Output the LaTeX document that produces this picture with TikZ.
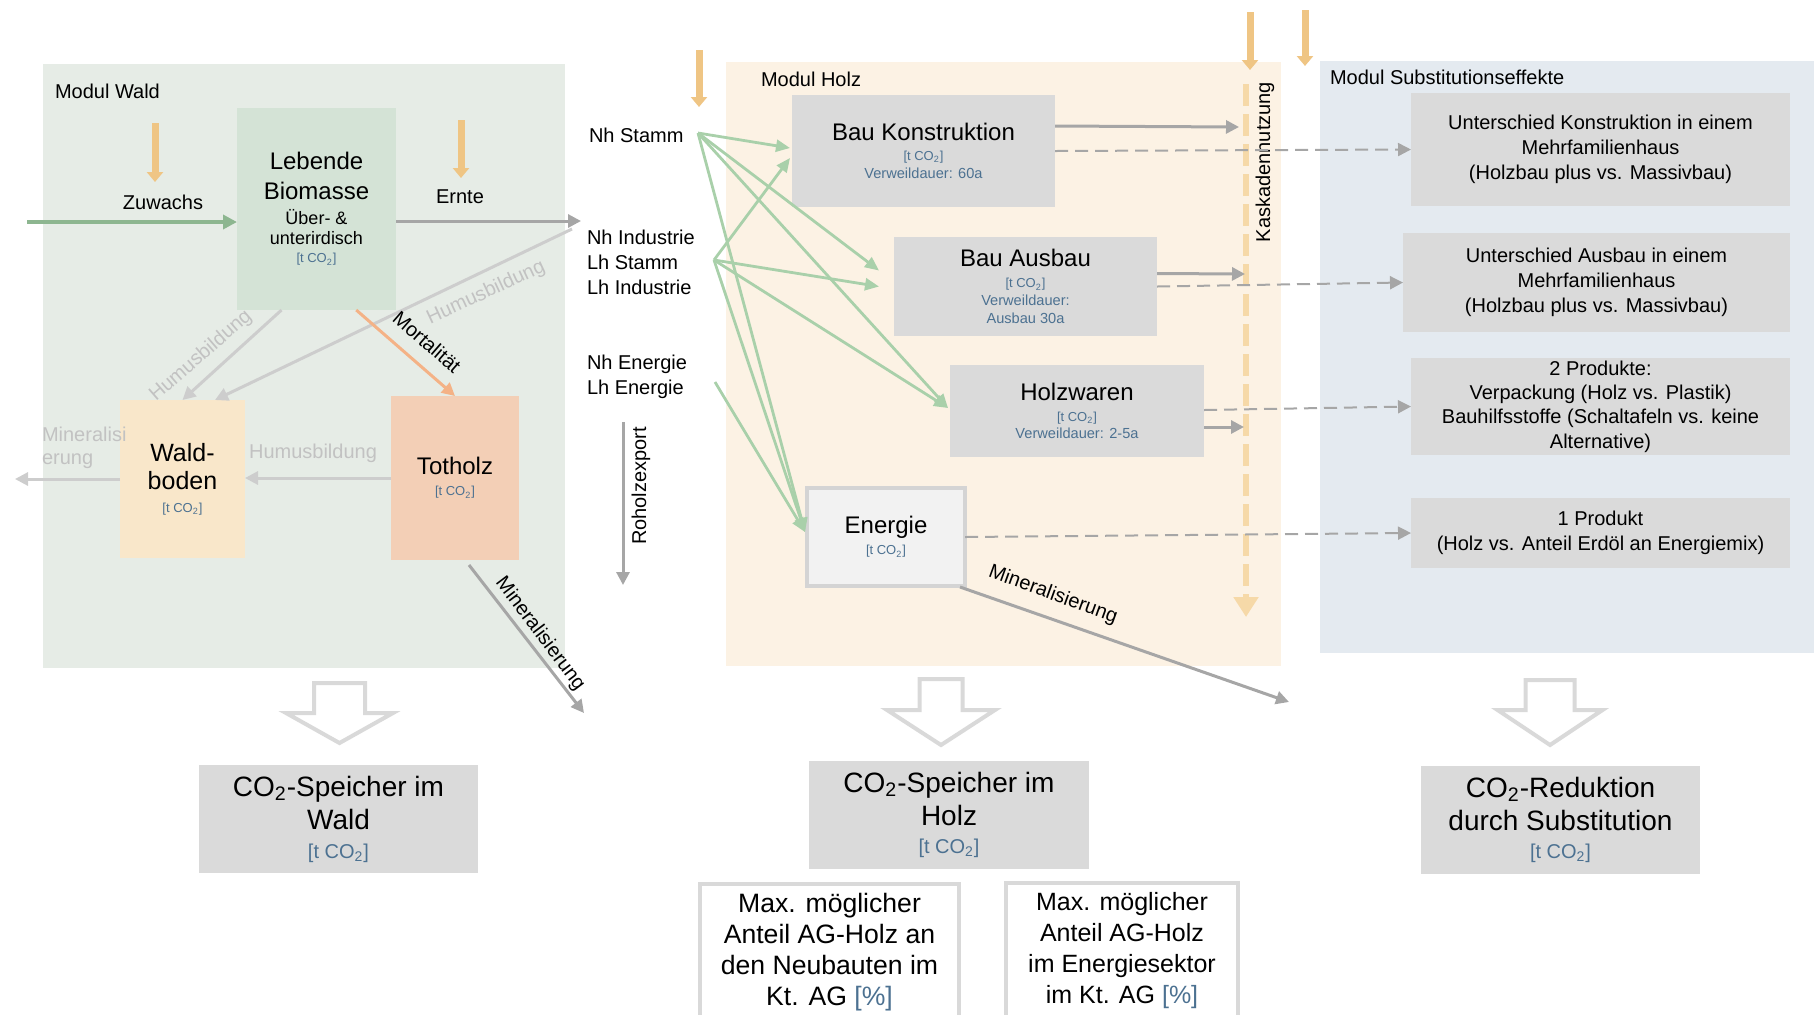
\documentclass[tikz,border=0pt]{standalone}
\usepackage{fontspec}
\setmainfont{Liberation Sans}
\usetikzlibrary{arrows.meta,calc}
\definecolor{waldbg}{HTML}{E6ECE6}
\definecolor{holzbg}{HTML}{FCF2E4}
\definecolor{subbg}{HTML}{E4EAF0}
\definecolor{lebfill}{HTML}{D4E3D6}
\definecolor{wbfill}{HTML}{F9E7CA}
\definecolor{thfill}{HTML}{F3CFB6}
\definecolor{boxgray}{HTML}{DADADA}
\definecolor{tblue}{HTML}{4C7191}
\definecolor{arrgray}{HTML}{A6A6A6}
\definecolor{lgline}{HTML}{CDCDCD}
\definecolor{humc}{HTML}{C2C2C2}
\definecolor{greenarr}{HTML}{A9D0AA}
\definecolor{greendark}{HTML}{8DB690}
\definecolor{goldc}{HTML}{EFC584}
\definecolor{kasc}{HTML}{F6D9A8}
\definecolor{orangearr}{HTML}{F4B286}
\definecolor{hollowc}{HTML}{D9D9D9}
\definecolor{enfill}{HTML}{F2F2F2}
\definecolor{enborder}{HTML}{D4D4D4}
\newcommand\fsz[1]{\fontsize{#1}{0pt}\selectfont}
\newcommand\tcoz{{\color{tblue}[t CO\textsubscript{2}]}}
\begin{document}
\lineskiplimit=-100pt
\begin{tikzpicture}[x=0.5pt,y=-0.5pt,
  panel/.style={rectangle, draw=none, inner sep=0pt, outer sep=0pt},
  box/.style={rectangle, inner sep=0pt, outer sep=0pt, align=center, text=black, font=\fsz{10}},
  lab/.style={inner sep=0pt, outer sep=0pt, text=black, font=\fsz{10}},
  goldarr/.style={draw=goldc, line width=3.5pt, -{Triangle[length=5pt,width=8pt]}},
  grayarr/.style={draw=arrgray, line width=1.5pt, -{Triangle[length=6.5pt,width=6.5pt]}},
  lgarr/.style={draw=lgline, line width=1.5pt, -{Triangle[length=6.5pt,width=6.5pt]}},
  orarr/.style={draw=orangearr, line width=1.5pt, -{Triangle[length=6.5pt,width=6.5pt]}},
  zwarr/.style={draw=greendark, line width=1.8pt, -{Triangle[length=7pt,width=7pt]}},
  grarr/.style={draw=greenarr, line width=1.4pt, -{Triangle[length=7pt,width=6pt]}},
  dasharr/.style={draw=arrgray, line width=1pt, dash pattern=on 6.5pt off 3.5pt, -{Triangle[length=6.5pt,width=6.5pt]}},
  kasarr/.style={draw=kasc, line width=3pt, dash pattern=on 11pt off 4pt, -{Triangle[length=10pt,width=12pt]}},
  hollowarr/.style={draw=hollowc, line width=2pt, fill=white, line join=miter},
  ]
\useasboundingbox (0,0) rectangle (1814,1014);
\clip (0,0) rectangle (1814,1014);

% ---------- panels
\node[panel, fill=waldbg, minimum width=261pt, minimum height=302pt] (pwald) at (304,366) {};
\node[panel, fill=holzbg, minimum width=277.5pt, minimum height=302pt] (pholz) at (1003.5,364) {};
\node[panel, fill=subbg, minimum width=247pt, minimum height=296pt] (psub) at (1567,357) {};

\node[lab, anchor=west] (twald) at (55,91) {Modul Wald};
\node[lab, anchor=west] (tholz) at (761,79) {Modul Holz};
\node[lab, anchor=west] (tsub) at (1330,77) {Modul Substitutionseffekte};

% ---------- Modul Wald
\node[box, fill=lebfill, minimum width=79.5pt, minimum height=101pt] (leb) at (316.5,209)
  {\fsz{12}Lebende\\[15pt]\fsz{12}Biomasse\\[12.4pt]\fsz{9}Über- \&\\[10pt]\fsz{9}unterirdisch\\[9.2pt]\fsz{6.5}\tcoz};
\node[box, fill=wbfill, minimum width=62.5pt, minimum height=79pt] (wb) at (182.5,479)
  {\fsz{12.5}Wald-\\[14pt]\fsz{12.5}boden\\[11.3pt]\fsz{6.5}\tcoz};
\node[box, fill=thfill, minimum width=64pt, minimum height=82pt] (th) at (455,478)
  {\fsz{12}Totholz\\[10.5pt]\fsz{6.5}\tcoz};

\coordinate (y1a) at (155,123); \coordinate (y1b) at (155,182);
\coordinate (y2a) at (461,120); \coordinate (y2b) at (461,178);
\draw[goldarr] (y1a) -- (y1b);
\draw[goldarr] (y2a) -- (y2b);

\coordinate (zw) at (27,222);
\draw[zwarr] (zw) -- (zw -| leb.west);
\coordinate (ern) at (581,221);
\draw[grayarr] (leb.east |- ern) -- (ern);
\node[lab] (zwt) at (163,202) {Zuwachs};
\node[lab] (ert) at (460,197) {Ernte};

\draw[lgarr] ($(leb.south west)!0.28!(leb.south east)$) -- (wb.north);
\coordinate (hl) at (572,229);
\draw[lgarr] (hl) -- ($(wb.north east)!0.24!(wb.north west)$);
\draw[orarr] ($(leb.south west)!0.75!(leb.south east)$) -- (th.north);
\draw[lgarr] (th.west) -- (th.west -| wb.east);
\coordinate (mleft) at (15,479);
\draw[lgarr] (wb.west) -- (mleft);
\coordinate (mtot) at (584,713);
\draw[grayarr] ($(th.south)+(14,5)$) -- (mtot);

\node[lab, text=humc, rotate=41] (h1) at (201,356) {Humusbildung};
\node[lab, text=humc, rotate=25] (h2) at (486,293) {Humusbildung};
\node[lab, text=humc] (h3) at (313,453) {Humusbildung};
\node[lab, rotate=-41] (mort) at (427,342) {Mortalität};
\node[lab, rotate=-53] (min1) at (540,634) {Mineralisierung};
\node[lab, text=humc, anchor=west, align=left] (min0) at (42,448) {Mineralisi\\[11.5pt]erung};

% ---------- Modul Holz
\coordinate (k0) at (1246,84); \coordinate (k1) at (1246,617);
\draw[kasarr] (k0) -- (k1);
\node[lab, rotate=90] (kask) at (1265,162) {Kaskadennutzung};

\coordinate (y3a) at (699,50); \coordinate (y3b) at (699,107);
\coordinate (y4a) at (1250,12); \coordinate (y4b) at (1250,70);
\coordinate (y5a) at (1305,10); \coordinate (y5b) at (1305,66);
\draw[goldarr] (y3a) -- (y3b);
\draw[goldarr] (y4a) -- (y4b);
\draw[goldarr] (y5a) -- (y5b);

\node[box, fill=boxgray, minimum width=131.5pt, minimum height=56pt] (bk) at (923.5,151)
  {\fsz{12}Bau Konstruktion\\[10pt]\fsz{6.5}\tcoz\\[9.2pt]\fsz{7.3}\color{tblue}Verweildauer: 60a};
\node[box, fill=boxgray, minimum width=131.5pt, minimum height=49.5pt] (ba) at (1025.5,286.5)
  {\fsz{12}Bau Ausbau\\[10.5pt]\fsz{6.5}\tcoz\\[8.75pt]\fsz{7.3}\color{tblue}Verweildauer:\\[9pt]\fsz{7.3}\color{tblue}Ausbau 30a};
\node[box, fill=boxgray, minimum width=127pt, minimum height=46pt] (hw) at (1077,411)
  {\fsz{12}Holzwaren\\[10.5pt]\fsz{6.5}\tcoz\\[8.75pt]\fsz{7.3}\color{tblue}Verweildauer: 2-5a};
\node[box, fill=enfill, draw=enborder, line width=2pt, minimum width=79pt, minimum height=49pt] (en) at (886,537)
  {\fsz{12}Energie\\[10.5pt]\fsz{6.5}\tcoz};

\node[lab, anchor=west] (nhs) at (589,135) {Nh Stamm};
\node[lab, anchor=west, align=left] (lhg) at (587,262) {Nh Industrie\\[12.5pt]Lh Stamm\\[12.5pt]Lh Industrie};
\node[lab, anchor=west, align=left] (neg) at (587,377) {Nh Energie\\[12.5pt]Lh Energie};

\coordinate (gs) at (698,133);
\coordinate (gl) at (714,260);
\coordinate (ge) at (715,382);
\draw[grarr] (gs) -- ($(bk.west)+(-2,-3)$);
\draw[grarr] (gs) -- ($(ba.west)+(-15,-16)$);
\draw[grarr] (gs) -- ($(hw.west)+(-2,-3)$);
\draw[grarr] (gs) -- ($(en.west)+(-2,-5)$);
\draw[grarr] (gl) -- ($(bk.west)+(-2,7)$);
\draw[grarr] (gl) -- ($(ba.west)+(-15,0)$);
\draw[grarr] (gl) -- ($(hw.west)+(-2,-3)$);
\draw[grarr] (gl) -- ($(en.west)+(-2,-5)$);
\draw[grarr] (ge) -- ($(en.west)+(-2,-5)$);

\coordinate (rx0) at (623,422); \coordinate (rx1) at (623,585);
\draw[grayarr] (rx0) -- (rx1);
\node[lab, rotate=90] (rxt) at (641,486) {Roholzexport};

% ---------- Modul Substitutionseffekte
\node[box, fill=boxgray, minimum width=189.5pt, minimum height=56.5pt] (s1) at (1600.5,149.5)
  {Unterschied Konstruktion in einem\\[12.5pt]Mehrfamilienhaus\\[12.5pt](Holzbau plus vs. Massivbau)};
\node[box, fill=boxgray, minimum width=193.5pt, minimum height=49.5pt] (s2) at (1596.5,282.5)
  {Unterschied Ausbau in einem\\[12.5pt]Mehrfamilienhaus\\[12.5pt](Holzbau plus vs. Massivbau)};
\node[box, fill=boxgray, minimum width=189.5pt, minimum height=48.5pt] (s3) at (1600.5,406.5)
  {2 Produkte:\\[12.2pt]Verpackung (Holz vs. Plastik)\\[12.2pt]Bauhilfsstoffe (Schaltafeln vs. keine\\[12.2pt]Alternative)};
\node[box, fill=boxgray, minimum width=189.5pt, minimum height=35pt] (s4) at (1600.5,533)
  {1 Produkt\\[12.5pt](Holz vs. Anteil Erdöl an Energiemix)};

\coordinate (ks1) at (1239,127);
\coordinate (ks2) at (1245,274);
\coordinate (ks3) at (1244,427);
\draw[grayarr] ($(bk.east)+(0,-25)$) -- (ks1);
\draw[dasharr] (bk.east) -- (s1.west);
\draw[grayarr] ($(ba.east)+(0,-13)$) -- (ks2);
\draw[dasharr] (ba.east) -- (s2.west);
\draw[dasharr] ($(hw.east)+(0,-1)$) -- (s3.west);
\draw[grayarr] ($(hw.east)+(0,16)$) -- (ks3);
\draw[dasharr] (en.east) -- (s4.west);
\coordinate (me) at (1289,702);
\draw[grayarr] ($(en.south east)+(-5,1)$) -- (me);
\node[lab, rotate=-20] (min2) at (1053,595) {Mineralisierung};

% ---------- bottom
\draw[hollowarr] (314,683) -- (365,683) -- (365,713) -- (393,713) -- (339.5,743) -- (286,713) -- (314,713) -- cycle;
\draw[hollowarr] (919.5,679) -- (962.5,679) -- (962.5,710) -- (995,710) -- (941,745) -- (887,710) -- (919.5,710) -- cycle;
\draw[hollowarr] (1525.5,680) -- (1574.5,680) -- (1574.5,710) -- (1602.5,710) -- (1550,745) -- (1497.5,710) -- (1525.5,710) -- cycle;

\node[box, fill=boxgray, minimum width=139.5pt, minimum height=54pt] (cw) at (338.5,819)
  {\fsz{14}CO\textsubscript{2}-Speicher im\\[16.5pt]\fsz{14}Wald\\[14.5pt]\fsz{10}\tcoz};
\node[box, fill=boxgray, minimum width=140pt, minimum height=54pt] (ch) at (949,815)
  {\fsz{14}CO\textsubscript{2}-Speicher im\\[16.75pt]\fsz{14}Holz\\[14pt]\fsz{10}\tcoz};
\node[box, fill=boxgray, minimum width=139.5pt, minimum height=54pt] (cr) at (1560.5,820)
  {\fsz{14}CO\textsubscript{2}-Reduktion\\[16.75pt]\fsz{14}durch Substitution\\[14pt]\fsz{10}\tcoz};

\node[box, fill=white, draw=hollowc, line width=2pt, minimum width=129.5pt, minimum height=68pt, font=\fsz{13.3}] (ma) at (829.5,952)
  {Max. möglicher\\[15.5pt]Anteil AG-Holz an\\[15.5pt]den Neubauten im\\[15.5pt]Kt. AG {\color{tblue}[\%]}};
\node[box, fill=white, draw=hollowc, line width=2pt, minimum width=116pt, minimum height=68pt, font=\fsz{12.5}] (mb) at (1122,951)
  {Max. möglicher\\[15.5pt]Anteil AG-Holz\\[15.5pt]im Energiesektor\\[15.5pt]im Kt. AG {\color{tblue}[\%]}};
\end{tikzpicture}
\end{document}
